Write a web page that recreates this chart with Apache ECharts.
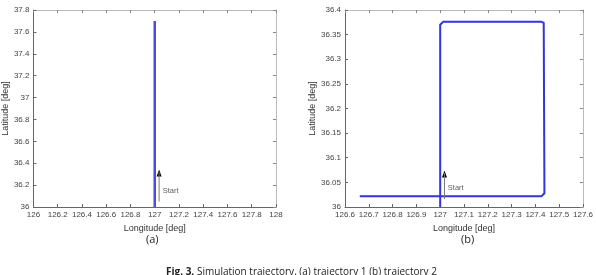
<!DOCTYPE html>
<html>
<head>
<meta charset="utf-8">
<script src="https://cdn.jsdelivr.net/npm/echarts@6/dist/echarts.min.js"></script>
<style>
  html, body { margin: 0; padding: 0; background: #fff; }
  #main { width: 596px; height: 275px; }
</style>
</head>
<body>
<div id="main"></div>
<script>
// trajectory 1 (a): straight north along 127 deg
var traj1Lon = [127.0, 127.0];
var traj1Lat = [36.0, 37.7];
// trajectory 2 (b): north, east, south, west with small rounded corners
var traj2Lon = [127.0, 127.0, 127.003, 127.012, 127.426, 127.435, 127.438, 127.438, 127.435, 127.426, 126.662];
var traj2Lat = [36.0, 36.370, 36.374, 36.376, 36.376, 36.374, 36.370, 36.028, 36.024, 36.022, 36.022];
// start arrows [lon, latFrom, latTo]
var arrow1 = [127.036, 36.05, 36.32];
var arrow2 = [127.018, 36.016, 36.069];
var start1 = [127.066, 36.146];
var start2 = [127.032, 36.039];

function zip(a, b) {
  var out = [];
  for (var i = 0; i < a.length; i++) out.push([a[i], b[i]]);
  return out;
}

var chart = echarts.init(document.getElementById('main'), null, { renderer: 'canvas' });

var labelFont = { fontFamily: 'Liberation Sans', fontSize: 8, color: '#444' };
var darkLine = { color: '#666', width: 1 };
var lightLine = { color: '#bbb', width: 1 };

function axisPair(gridIndex, min, max, interval, isX, name) {
  var main = {
    gridIndex: gridIndex, type: 'value', min: min, max: max, interval: interval,
    position: isX ? 'bottom' : 'left',
    name: name, nameLocation: 'middle',
    nameGap: isX ? 17 : 22,
    nameTextStyle: { fontFamily: 'Liberation Sans', fontSize: 9, color: '#333' },
    axisLine: { show: true, onZero: false, lineStyle: darkLine },
    axisTick: { show: true, inside: true, length: 3, lineStyle: darkLine },
    axisLabel: Object.assign({ margin: 4, hideOverlap: false, showMinLabel: true, showMaxLabel: true }, labelFont),
    splitLine: { show: false }
  };
  var other = {
    gridIndex: gridIndex, type: 'value', min: min, max: max, interval: interval,
    position: isX ? 'top' : 'right',
    axisLine: { show: true, onZero: false, lineStyle: lightLine },
    axisTick: { show: true, inside: true, length: 3, lineStyle: { color: '#888', width: 1 } },
    axisLabel: { show: false },
    splitLine: { show: false }
  };
  return [main, other];
}

var xa = axisPair(0, 126, 128, 0.2, true, 'Longitude [deg]');
var xb = axisPair(1, 126.6, 127.6, 0.1, true, 'Longitude [deg]');
var ya = axisPair(0, 36, 37.8, 0.2, false, 'Latitude [deg]');
var yb = axisPair(1, 36, 36.4, 0.05, false, 'Latitude [deg]');
ya[0].nameGap = 19;
yb[0].nameGap = 25;

function arrowSeries(xIdx, yIdx, arr) {
  return [
    {
      type: 'line', xAxisIndex: xIdx, yAxisIndex: yIdx, silent: true,
      data: [[arr[0], arr[1]], [arr[0], arr[2]]],
      showSymbol: false, lineStyle: { color: '#777', width: 1 }
    },
    {
      type: 'scatter', xAxisIndex: xIdx, yAxisIndex: yIdx, silent: true,
      data: [[arr[0], arr[2]]],
      symbol: 'triangle', symbolSize: [5, 7], symbolOffset: [0, 1],
      itemStyle: { color: '#000', opacity: 1 }
    }
  ];
}

function startLabel(xIdx, yIdx, pos) {
  return {
    type: 'scatter', xAxisIndex: xIdx, yAxisIndex: yIdx, symbolSize: 0, silent: true,
    data: [pos],
    label: { show: true, formatter: 'Start', position: [0, 0], align: 'left', verticalAlign: 'middle',
      fontFamily: 'Liberation Sans', fontSize: 7.5, color: '#333' }
  };
}

chart.setOption({
  animation: false,
  backgroundColor: '#fff',
  grid: [
    { left: 29, top: 10, width: 247, height: 197 },
    { left: 345, top: 10, width: 247, height: 197 }
  ],
  xAxis: [xa[0], xa[1], xb[0], xb[1]],
  yAxis: [ya[0], ya[1], yb[0], yb[1]],
  series: [
    {
      type: 'line', xAxisIndex: 0, yAxisIndex: 0, data: zip(traj1Lon, traj1Lat),
      showSymbol: false, lineStyle: { color: '#4a4ae6', width: 2.5 }
    },
    {
      type: 'line', xAxisIndex: 2, yAxisIndex: 2, data: zip(traj2Lon, traj2Lat),
      showSymbol: false, lineStyle: { color: '#3434dc', width: 2, join: 'round' }
    }
  ].concat(arrowSeries(0, 0, arrow1), arrowSeries(2, 2, arrow2), [
    startLabel(0, 0, start1),
    startLabel(2, 2, start2)
  ]),
  graphic: [
    { type: 'text', left: 146, top: 234, style: { text: '(a)', font: '11px "Open Sans"', fill: '#222' } },
    { type: 'text', left: 461, top: 234, style: { text: '(b)', font: '11px "Open Sans"', fill: '#222' } },
    { type: 'text', left: 166, top: 267, style: { text: 'Fig. 3.', font: 'bold 10px "Open Sans"', fill: '#222' } },
    { type: 'text', left: 197, top: 267, style: { text: 'Simulation trajectory. (a) trajectory 1 (b) trajectory 2', font: '10px "Open Sans"', fill: '#222' } }
  ]
});
</script>
</body>
</html>
